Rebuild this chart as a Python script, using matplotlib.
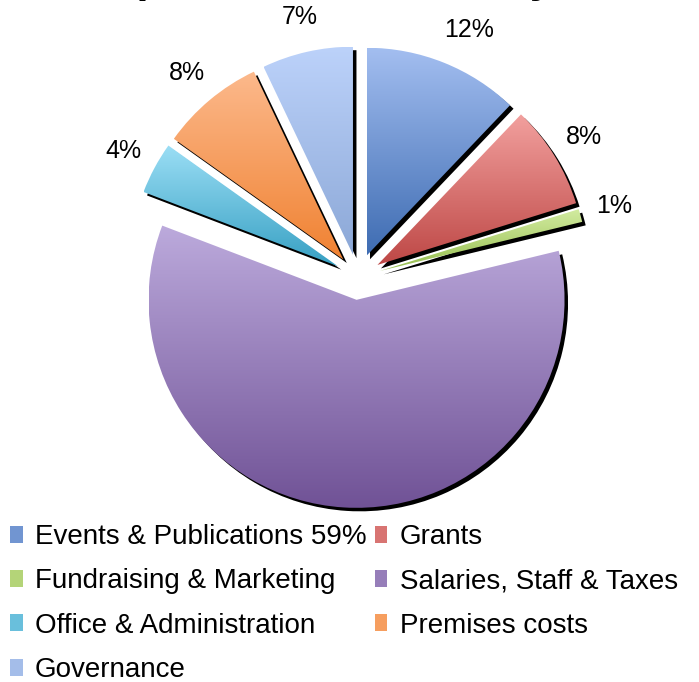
import numpy as np
import matplotlib.pyplot as plt
from matplotlib.colors import to_rgb
from matplotlib.patches import Patch

# Expenditure breakdown (percent)
categories = ['Events & Publications', 'Grants', 'Fundraising & Marketing',
              'Salaries, Staff & Taxes', 'Office & Administration',
              'Premises costs', 'Governance']
values = [12, 8, 1, 59, 4, 8, 7]
legend_labels = ['Events & Publications 59%', 'Grants', 'Fundraising & Marketing',
                 'Salaries, Staff & Taxes', 'Office & Administration',
                 'Premises costs', 'Governance']
title = 'Expenditure Summary'

# gradient colours: top (light) -> bottom (dark)
top_colors = ['#a3bef0', '#f2a09e', '#d2eba0', '#bcaadc', '#9bdef5', '#fcb98c', '#bcd2fa']
bottom_colors = ['#3e6cb2', '#be4846', '#96be50', '#705296', '#37a0c3', '#f08232', '#8ca8d7']

plt.rcParams['font.family'] = ['Liberation Sans', 'DejaVu Sans']

W, H = 699, 682
fig = plt.figure(figsize=(W / 100, H / 100), dpi=100)
ax = fig.add_axes([0, 0, 1, 1])

R = 208.0            # pie radius in pixels
cx, cy = 358, H - 277
explode = [0.11] * len(values)
shift = 3.5 / R

# black drop shadow, offset right/down
ax.pie(values, explode=explode, startangle=90, counterclock=False,
       colors=['black'] * len(values), center=(shift, -shift),
       wedgeprops={'linewidth': 0})

wedges, texts, autotexts = ax.pie(
    values, explode=explode, startangle=90, counterclock=False,
    autopct=lambda p: f'{p * sum(values) / 100:.0f}%', pctdistance=1.17,
    textprops={'fontsize': 18, 'color': 'black'},
    wedgeprops={'linewidth': 0})

for w, top, bot in zip(wedges, top_colors, bottom_colors):
    w.set_facecolor('none')
    w.set_edgecolor('none')
    x0, y0, x1, y1 = w.get_path().get_extents().extents
    grad = np.linspace(to_rgb(bot), to_rgb(top), 256)[:, None, :]
    im = ax.imshow(grad, extent=(x0, x1, y0, y1), origin='lower',
                   aspect='auto', zorder=2, interpolation='bilinear')
    im.set_clip_path(w)

for t in autotexts:
    t.set_zorder(4)
# the big slice carries no label on the chart
autotexts[3].set_text('')
# nudge the first label a little clockwise, as in the original
x, y = autotexts[0].get_position()
autotexts[0].set_position((x + 12 / R, y))

ax.set_xlim(-cx / R, (W - cx) / R)
ax.set_ylim(-cy / R, (H - cy) / R)
ax.axis('off')

# legend, filled row by row
mid_colors = [tuple((np.array(to_rgb(a)) + np.array(to_rgb(b))) / 2)
              for a, b in zip(top_colors, bottom_colors)]
handles = [Patch(facecolor=c, edgecolor='none') for c in mid_colors]
order = [0, 2, 4, 6, 1, 3, 5]
fig.legend([handles[i] for i in order], [legend_labels[i] for i in order],
           ncol=2, loc='upper left', bbox_to_anchor=(10 / W, 1 - 524 / H),
           frameon=False, fontsize=20, handlelength=0.45, handleheight=0.55,
           handletextpad=0.45, labelspacing=0.66, columnspacing=0.3,
           borderpad=0, borderaxespad=0)

# title, mostly above the visible area (only descenders show)
fig.text(82 / W, (H + 8) / H, title, fontsize=32, fontweight='bold',
         ha='left', va='baseline')

fig.savefig('out.png', dpi=100)
